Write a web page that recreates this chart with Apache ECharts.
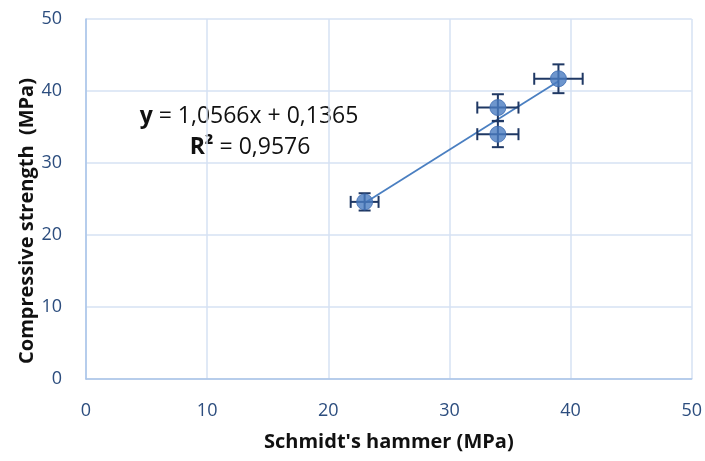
<!DOCTYPE html>
<html><head><meta charset="utf-8">
<script src="https://cdn.jsdelivr.net/npm/echarts@6/dist/echarts.min.js"></script>
<style>html,body{margin:0;padding:0;background:#fff}#c{width:705px;height:461px}</style>
</head><body><div id="c"></div>
<script>
const xValues = [23, 34, 34, 39];
const yValues = [24.6, 37.7, 34.0, 41.7];
const xErrors = [1.15, 1.7, 1.7, 2.0];
const yErrors = [1.2, 1.85, 1.8, 2.0];
const trendX = [23, 39];
const trendY = [24.44, 41.34];
const xTicks = [0, 10, 20, 30, 40, 50];
const yTicks = [0, 10, 20, 30, 40, 50];

const FONT = '"Open Sans", "Noto Sans", sans-serif';
const points = xValues.map((x, i) => [x, yValues[i]]);
const errData = xValues.map((x, i) => [x, yValues[i], xErrors[i], yErrors[i]]);
const trend = trendX.map((x, i) => [x, trendY[i]]);
const errColor = '#1f3864';

function renderErr(params, api) {
  const x = api.value(0), y = api.value(1), ex = api.value(2), ey = api.value(3);
  const l = api.coord([x - ex, y]), r = api.coord([x + ex, y]);
  const t = api.coord([x, y + ey]), b = api.coord([x, y - ey]);
  const cap = 6;
  const st = {stroke: errColor, lineWidth: 2};
  return {type: 'group', children: [
    {type: 'line', shape: {x1: l[0], y1: l[1], x2: r[0], y2: r[1]}, style: st},
    {type: 'line', shape: {x1: l[0], y1: l[1] - cap, x2: l[0], y2: l[1] + cap}, style: st},
    {type: 'line', shape: {x1: r[0], y1: r[1] - cap, x2: r[0], y2: r[1] + cap}, style: st},
    {type: 'line', shape: {x1: t[0], y1: t[1], x2: b[0], y2: b[1]}, style: st},
    {type: 'line', shape: {x1: t[0] - cap, y1: t[1], x2: t[0] + cap, y2: t[1]}, style: st},
    {type: 'line', shape: {x1: b[0] - cap, y1: b[1], x2: b[0] + cap, y2: b[1]}, style: st}
  ]};
}

const chart = echarts.init(document.getElementById('c'), null, {renderer: 'canvas'});
const axisCommon = {
  min: 0, max: 50, interval: 10,
  axisLine: {show: true, lineStyle: {color: '#a9c4e8', width: 1.5}},
  axisTick: {show: false},
  splitLine: {show: true, lineStyle: {color: '#d6e2f3', width: 1.5}},
  axisLabel: {color: '#2c4d7e', fontSize: 18, fontFamily: FONT}
};
chart.setOption({
  animation: false,
  grid: {left: 86, right: 13, top: 19, bottom: 82},
  xAxis: Object.assign({}, axisCommon, {
    type: 'value',
    name: "Schmidt's hammer (MPa)", nameLocation: 'middle', nameGap: 53,
    nameTextStyle: {fontSize: 20, fontWeight: 'bold', color: '#111', fontFamily: FONT},
    axisLabel: Object.assign({}, axisCommon.axisLabel, {margin: 23})
  }),
  yAxis: Object.assign({}, axisCommon, {
    type: 'value',
    name: 'Compressive strength  (MPa)', nameLocation: 'middle', nameGap: 49,
    nameMoveOverlap: false,
    nameTextStyle: {fontSize: 20, fontWeight: 'bold', color: '#111', fontFamily: FONT,
      padding: [0, 44, 0, 0]},
    axisLabel: Object.assign({}, axisCommon.axisLabel, {margin: 24})
  }),
  series: [
    {type: 'line', data: trend, symbol: 'none', lineStyle: {color: '#4a7fc1', width: 1.8}, z: 2},
    {type: 'custom', data: errData, renderItem: renderErr, encode: {x: 0, y: 1}, z: 3},
    {type: 'scatter', data: points, symbol: 'circle', symbolSize: 16,
     itemStyle: {color: '#4a7cc0', borderColor: '#3e6bb0', borderWidth: 1}, z: 4}
  ],
  graphic: [
    {type: 'text', x: 249, y: 116, style: {
      text: '{b|y} = 1,0566x + 0,1365', fontSize: 23, fontFamily: FONT, fill: '#111',
      align: 'center', verticalAlign: 'middle',
      rich: {b: {fontWeight: 'bold', fontSize: 23, fontFamily: FONT, fill: '#111'}}}},
    {type: 'text', x: 250, y: 147, style: {
      text: '{b|R²} = 0,9576', fontSize: 23, fontFamily: FONT, fill: '#111',
      align: 'center', verticalAlign: 'middle',
      rich: {b: {fontWeight: 'bold', fontSize: 23, fontFamily: FONT, fill: '#111'}}}}
  ]
});
</script></body></html>
